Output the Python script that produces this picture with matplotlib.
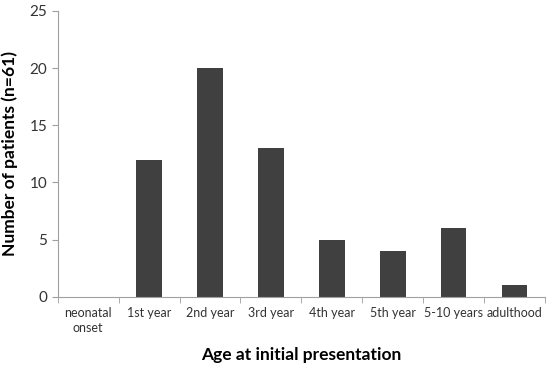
import numpy as np
import matplotlib
matplotlib.use('Agg')
import matplotlib.pyplot as plt

plt.rcParams['font.family'] = ['Lato', 'DejaVu Sans']

# データ
categories = ['neonatal\nonset', '1st year', '2nd year', '3rd year',
              '4th year', '5th year', '5-10 years', 'adulthood']
patients = [0, 12, 20, 13, 5, 4, 6, 1]

fig = plt.figure(figsize=(5.5, 3.66), dpi=100)
ax = fig.add_axes([0.105, 0.189, 0.886, 0.781])

x = np.arange(len(categories))
ax.bar(x, patients, width=0.42, color='#404040')

ax.set_xlim(-0.5, len(categories) - 0.5)
ax.set_ylim(0, 25)
ax.set_yticks([0, 5, 10, 15, 20, 25])
ax.set_xticks(x)
ax.set_xticklabels(categories, fontsize=9, color='#333333', linespacing=1.3)
ax.set_xticks(np.arange(-0.5, len(categories)), minor=True)
ax.tick_params(axis='x', which='major', length=0, pad=7)
ax.tick_params(axis='x', which='minor', length=4, color='#a0a0a0', direction='out')
ax.tick_params(axis='y', length=4, color='#a0a0a0', labelsize=11, labelcolor='#333333')

for s in ['top', 'right']:
    ax.spines[s].set_visible(False)
for s in ['left', 'bottom']:
    ax.spines[s].set_color('#a0a0a0')

ax.set_ylabel('Number of patients (n=61)', fontsize=12.5, fontweight='bold', labelpad=8)
ax.set_xlabel('Age at initial presentation', fontsize=12.5, fontweight='bold', labelpad=10)

plt.savefig('out.png', dpi=100)
